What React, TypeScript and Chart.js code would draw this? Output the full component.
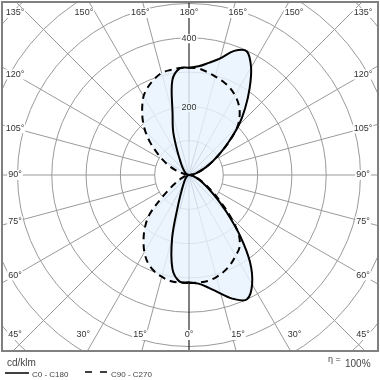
import React, { useEffect, useRef } from "react";
import { Chart, registerables } from "chart.js";

Chart.register(...registerables);

// Polar angle (degrees from nadir) for every intensity sample
const ANGLES = [0, 5, 10, 15, 20, 25, 30, 35, 40, 45, 50, 55, 60, 65, 70, 75, 80, 85, 90,
  95, 100, 105, 110, 115, 120, 125, 130, 135, 140, 145, 150, 155, 160, 165, 170, 175, 180];

// Luminous intensity, cd/klm
const C0 = [313, 318, 334, 358, 385, 400, 368, 310, 232, 158, 105, 70, 47, 33, 22, 14, 8, 3, 0,
  5, 13, 24, 38, 56, 80, 112, 152, 205, 255, 308, 362, 398, 385, 352, 332, 318, 313];
const C180 = [313, 312, 278, 190, 92, 52, 34, 24, 18, 14, 11, 9, 7, 5, 4, 3, 2, 1, 0,
  1, 3, 4, 6, 8, 11, 14, 18, 23, 30, 40, 55, 85, 135, 185, 280, 312, 313];
const C90 = [315, 315, 314, 308, 299, 287, 272, 257, 225, 170, 118, 80, 55, 37, 24, 14, 7, 3, 0,
  4, 10, 20, 35, 55, 80, 112, 155, 200, 230, 252, 268, 281, 290, 297, 305, 312, 313];
const C270 = [315, 315, 314, 307, 298, 283, 260, 231, 200, 163, 105, 66, 42, 28, 18, 11, 6, 2, 0,
  4, 10, 20, 42, 65, 88, 115, 148, 180, 210, 238, 265, 283, 297, 308, 311, 313, 313];

const RING_VALUES = [100, 200, 300, 400, 500, 600, 700, 800];
const RING_LABELS = [200, 400];
const SPOKE_STEP = 15;
const SERIES_NAMES = ["C0 - C180", "C90 - C270"];
const UNIT_LABEL = "cd/klm";
const ETA_LABEL = "η =";
const ETA_VALUE = "100%";

// layout
const SIZE = 380;
const PX_PER_UNIT = 0.343;
const CENTER_X = 189;
const CENTER_Y = 175;
const FRAME = { l: 3, t: 3, r: 377, b: 350 };
const LEFT_LABEL_X = 15;
const RIGHT_LABEL_X = 363;
const TOP_LABEL_Y = 13;
const BOTTOM_LABEL_Y = 335;

const FONT = '"Liberation Sans", Arial, sans-serif';
const FILL = "rgba(232,242,252,0.82)";
const FILL_SOLID = "rgb(236,245,252)";

function toPoints(right: number[], left: number[]) {
  const pts: { x: number; y: number }[] = [];
  for (let i = 0; i < ANGLES.length; i++) {
    const a = (ANGLES[i] * Math.PI) / 180;
    pts.push({ x: right[i] * Math.sin(a), y: -right[i] * Math.cos(a) });
  }
  for (let i = ANGLES.length - 2; i >= 0; i--) {
    const a = (ANGLES[i] * Math.PI) / 180;
    pts.push({ x: -left[i] * Math.sin(a), y: -left[i] * Math.cos(a) });
  }
  return pts;
}

const clamp = (v: number, a: number, b: number) => Math.max(a, Math.min(b, v));

function labelBox(ctx: CanvasRenderingContext2D, text: string, x: number, y: number, bg: string, h: number) {
  const w = ctx.measureText(text).width;
  ctx.fillStyle = bg;
  ctx.fillRect(x - w / 2 - 1, y - h / 2, w + 2, h);
  ctx.fillStyle = "#333";
  ctx.fillText(text, x, y);
}

const polarGrid = {
  id: "polarGrid",
  beforeDatasetsDraw(chart: any) {
    const ctx: CanvasRenderingContext2D = chart.ctx;
    const xs = chart.scales.x;
    const ys = chart.scales.y;
    const cx = xs.getPixelForValue(0);
    const cy = ys.getPixelForValue(0);
    const k = xs.getPixelForValue(100) - cx; // px per 100 units
    ctx.save();
    ctx.beginPath();
    ctx.rect(FRAME.l, FRAME.t, FRAME.r - FRAME.l, FRAME.b - FRAME.t);
    ctx.clip();
    ctx.fillStyle = "#fff";
    ctx.fillRect(FRAME.l, FRAME.t, FRAME.r - FRAME.l, FRAME.b - FRAME.t);

    // rings
    ctx.strokeStyle = "#9a9a9a";
    ctx.lineWidth = 1;
    for (const v of RING_VALUES) {
      ctx.beginPath();
      ctx.arc(cx, cy, (k * v) / 100, 0, Math.PI * 2);
      ctx.stroke();
    }
    const r0 = (k * RING_VALUES[0]) / 100;
    const rMax = 1000;
    // spokes
    for (let a = 0; a < 360; a += SPOKE_STEP) {
      const rad = (a * Math.PI) / 180;
      const dx = Math.sin(rad), dy = Math.cos(rad);
      ctx.strokeStyle = a % 180 === 0 ? "#000" : "#9a9a9a";
      ctx.beginPath();
      ctx.moveTo(cx + dx * r0, cy + dy * r0);
      ctx.lineTo(cx + dx * rMax, cy + dy * rMax);
      ctx.stroke();
    }

    // union fill of both curves
    const path = new Path2D();
    for (let i = 0; i < chart.data.datasets.length; i++) {
      const meta = chart.getDatasetMeta(i);
      const line = meta.dataset;
      if (!line) continue;
      if (typeof line.updateControlPoints === "function") line.updateControlPoints(chart.chartArea, "x");
      if (typeof line.path === "function") {
        line.path(path);
      } else {
        meta.data.forEach((p: any, j: number) => (j === 0 ? path.moveTo(p.x, p.y) : path.lineTo(p.x, p.y)));
      }
      path.closePath();
    }
    ctx.fillStyle = FILL;
    ctx.fill(path);

    // faint spokes inside the inner ring, only within the lit area
    ctx.save();
    ctx.clip(path);
    ctx.strokeStyle = "rgba(150,170,190,0.35)";
    for (let a = 0; a < 360; a += SPOKE_STEP) {
      const rad = (a * Math.PI) / 180;
      ctx.beginPath();
      ctx.moveTo(cx, cy);
      ctx.lineTo(cx + Math.sin(rad) * r0, cy + Math.cos(rad) * r0);
      ctx.stroke();
    }
    ctx.restore();

    // ring value labels
    ctx.font = `9px ${FONT}`;
    ctx.textAlign = "center";
    ctx.textBaseline = "middle";
    for (const v of RING_LABELS) {
      const y = cy - (k * v) / 100;
      const inside = ctx.isPointInPath(path, cx + 6, y);
      labelBox(ctx, String(v), cx, y + 1, inside ? FILL_SOLID : "#fff", 9);
    }

    // angle labels
    for (let a = 0; a < 360; a += SPOKE_STEP) {
      const rad = (a * Math.PI) / 180;
      const dx = Math.sin(rad), dy = Math.cos(rad);
      let x: number, y: number;
      if (Math.abs(dx) >= Math.abs(dy) - 1e-9) {
        x = dx > 0 ? RIGHT_LABEL_X : LEFT_LABEL_X;
        y = clamp(cy + ((x - cx) / dx) * dy, TOP_LABEL_Y, BOTTOM_LABEL_Y);
      } else {
        const ty = dy > 0 ? FRAME.b + 8 : FRAME.t - 10;
        x = clamp(cx + ((ty - cy) / dy) * dx, LEFT_LABEL_X, RIGHT_LABEL_X);
        y = dy > 0 ? BOTTOM_LABEL_Y : TOP_LABEL_Y;
      }
      const val = a <= 180 ? a : 360 - a;
      labelBox(ctx, `${val}°`, x, y, "#fff", 10);
    }
    ctx.restore();
  },
  afterDatasetsDraw(chart: any) {
    const ctx: CanvasRenderingContext2D = chart.ctx;
    ctx.save();
    ctx.strokeStyle = "#808080";
    ctx.lineWidth = 2;
    ctx.strokeRect(FRAME.l - 1, FRAME.t - 1, FRAME.r - FRAME.l + 2, FRAME.b - FRAME.t + 2);

    // legend & notes
    ctx.fillStyle = "#444";
    ctx.textBaseline = "middle";
    ctx.textAlign = "left";
    ctx.font = `10px ${FONT}`;
    ctx.fillText(UNIT_LABEL, 7, 363);
    ctx.strokeStyle = "#000";
    ctx.lineWidth = 1.5;
    ctx.beginPath();
    ctx.moveTo(5, 373);
    ctx.lineTo(29, 373);
    ctx.stroke();
    ctx.font = `8px ${FONT}`;
    ctx.fillText(SERIES_NAMES[0], 32, 375);
    ctx.setLineDash([7, 8]);
    ctx.beginPath();
    ctx.moveTo(85, 372);
    ctx.lineTo(108, 372);
    ctx.stroke();
    ctx.setLineDash([]);
    ctx.fillText(SERIES_NAMES[1], 111, 375);
    ctx.font = `9px ${FONT}`;
    ctx.fillText(ETA_LABEL, 328, 360);
    ctx.font = `10px ${FONT}`;
    ctx.fillText(ETA_VALUE, 345, 364);
    ctx.restore();
  },
};

export default function App() {
  const ref = useRef<HTMLCanvasElement | null>(null);
  useEffect(() => {
    document.body.style.margin = "0";
    const canvas = ref.current;
    if (!canvas) return;
    const xMin = -CENTER_X / PX_PER_UNIT;
    const xMax = (SIZE - CENTER_X) / PX_PER_UNIT;
    const yMax = CENTER_Y / PX_PER_UNIT;
    const yMin = -(SIZE - CENTER_Y) / PX_PER_UNIT;
    const chart = new Chart(canvas, {
      type: "line",
      data: {
        datasets: [
          {
            label: SERIES_NAMES[0],
            data: toPoints(C0, C180),
            borderColor: "#000",
            borderWidth: 2,
            pointRadius: 0,
            tension: 0.35,
            fill: false,
          },
          {
            label: SERIES_NAMES[1],
            data: toPoints(C90, C270),
            borderColor: "#000",
            borderWidth: 2,
            borderDash: [7, 5],
            pointRadius: 0,
            tension: 0.35,
            fill: false,
          },
        ],
      },
      options: {
        responsive: false,
        animation: false,
        events: [],
        layout: { padding: 0 },
        scales: {
          x: { type: "linear", min: xMin, max: xMax, display: false },
          y: { type: "linear", min: yMin, max: yMax, display: false },
        },
        plugins: { legend: { display: false }, tooltip: { enabled: false } },
      },
      plugins: [polarGrid],
    });
    return () => chart.destroy();
  }, []);
  return (
    <div style={{ width: SIZE, height: SIZE }}>
      <canvas ref={ref} width={SIZE} height={SIZE} style={{ display: "block" }} />
    </div>
  );
}
